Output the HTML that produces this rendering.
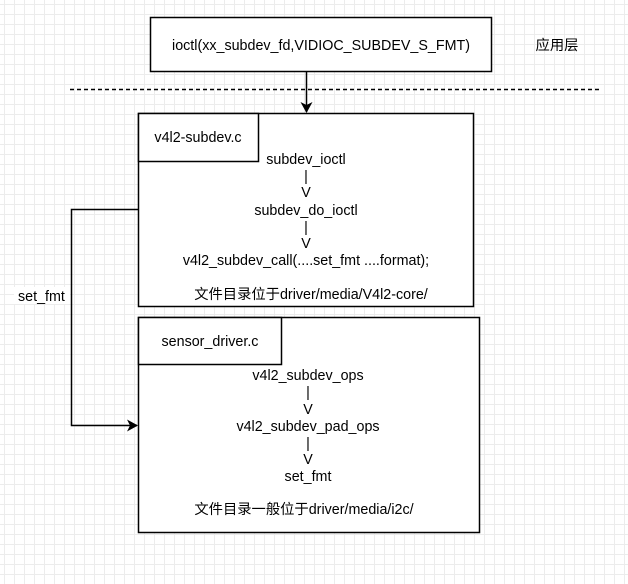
<!DOCTYPE html>
<html><head><style>
body{margin:0;width:628px;height:584px;overflow:hidden;background:#fff;
background-image:linear-gradient(#ececec 1px,transparent 1px),linear-gradient(90deg,#ececec 1px,transparent 1px);
background-size:10px 10px;background-position:4px 4px;}
</style></head><body>
<svg width="628" height="584" style="position:absolute;left:0;top:0" font-family="Liberation Sans, Noto Sans CJK SC, sans-serif" font-size="14.3">
<defs><marker id="a" markerWidth="12" markerHeight="12" refX="10" refY="6" orient="auto" markerUnits="userSpaceOnUse"><path d="M0,0 L11,6 L0,12 L3,6 Z" fill="#000"/></marker></defs>
<g stroke-width="1.5">
<rect x="150.5" y="17.5" width="341" height="54" fill="#fff" stroke="#000"/>
<line x1="70" y1="89.5" x2="600" y2="89.5" stroke="#000" stroke-dasharray="4,3"/>
<line x1="306.5" y1="72" x2="306.5" y2="112" stroke="#000" marker-end="url(#a)"/>
<rect x="138.5" y="113.5" width="335" height="193" fill="#fff" stroke="#000"/>
<rect x="138.5" y="113.5" width="120" height="48" fill="#fff" stroke="#000"/>
<rect x="138.5" y="317.5" width="341" height="215" fill="#fff" stroke="#000"/>
<rect x="138.5" y="317.5" width="143" height="47" fill="#fff" stroke="#000"/>
<polyline points="138,209.5 71.5,209.5 71.5,425.5 137,425.5" fill="none" stroke="#000" marker-end="url(#a)"/>
</g>
<text x="321" y="50" text-anchor="middle">ioctl(xx_subdev_fd,VIDIOC_SUBDEV_S_FMT)</text>
<text x="557" y="50" text-anchor="middle">应用层</text>
<text x="198" y="142" text-anchor="middle">v4l2-subdev.c</text>
<g text-anchor="middle">
<text x="306" y="164">subdev_ioctl</text>
<text x="306" y="181">|</text>
<text x="306" y="197">V</text>
<text x="306" y="215">subdev_do_ioctl</text>
<text x="306" y="232">|</text>
<text x="306" y="248">V</text>
<text x="306" y="265">v4l2_subdev_call(....set_fmt ....format);</text>
<text x="311" y="299">文件目录位于driver/media/V4l2-core/</text>
</g>
<text x="210" y="346" text-anchor="middle">sensor_driver.c</text>
<g text-anchor="middle">
<text x="308" y="380">v4l2_subdev_ops</text>
<text x="308" y="397">|</text>
<text x="308" y="414">V</text>
<text x="308" y="431">v4l2_subdev_pad_ops</text>
<text x="308" y="448">|</text>
<text x="308" y="464">V</text>
<text x="308" y="481">set_fmt</text>
<text x="304" y="514">文件目录一般位于driver/media/i2c/</text>
</g>
<rect x="14" y="287" width="56" height="17" fill="#fff"/>
<text x="18" y="301">set_fmt</text>
</svg>
</body></html>
